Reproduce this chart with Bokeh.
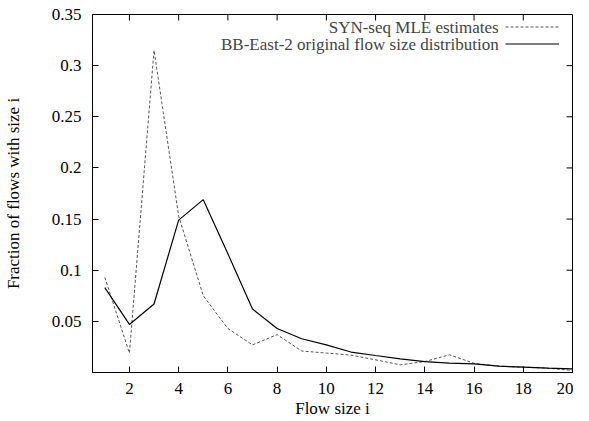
from bokeh.plotting import figure
from bokeh.models import Range1d, FixedTicker, Legend, LegendItem, Label
from bokeh.embed import file_html
from bokeh.resources import INLINE

flow_size = list(range(1, 21))
mle_estimates = [0.093, 0.019, 0.315, 0.153, 0.075, 0.043, 0.027, 0.037, 0.021, 0.019,
                 0.017, 0.0124, 0.0075, 0.0107, 0.0173, 0.009, 0.0062, 0.0052, 0.0042, 0.002]
original_dist = [0.083, 0.047, 0.067, 0.149, 0.169, 0.116, 0.062, 0.043, 0.033, 0.027,
                 0.020, 0.0166, 0.0134, 0.0107, 0.0091, 0.0085, 0.0062, 0.0052, 0.0042, 0.0036]
x_ticks = [2, 4, 6, 8, 10, 12, 14, 16, 18, 20]
x_tick_labels = ["2", "4", "6", "8", "10", "12", "14", "16", "18", "20"]
y_ticks = [0.05, 0.1, 0.15, 0.2, 0.25, 0.3, 0.35]
y_tick_labels = ["0.05", "0.1", "0.15", "0.2", "0.25", "0.3", "0.35"]
series_names = ["SYN-seq MLE estimates", "BB-East-2 original flow size distribution"]

X_MIN, X_MAX = 0.5, 20
Y_MIN, Y_MAX = 0, 0.35
FONT = "Liberation Serif"
FS = "17px"
W, H = 573, 420
B_LEFT, B_RIGHT, B_TOP = 86, 1, 14
TICK = 6

p = figure(width=W, height=H, output_backend="svg", toolbar_location=None,
           x_range=Range1d(X_MIN, X_MAX), y_range=Range1d(Y_MIN, Y_MAX),
           min_border_left=B_LEFT, min_border_right=B_RIGHT, min_border_top=B_TOP,
           min_border_bottom=0)
p.grid.visible = False
p.outline_line_color = "black"
p.outline_line_width = 1
p.background_fill_color = "white"
p.border_fill_color = "white"

r_mle = p.line(flow_size, mle_estimates, line_color="#555555", line_width=1, line_dash="3 2")
r_orig = p.line(flow_size, original_dist, line_color="black", line_width=1.2)

def style_axis(ax):
    ax.axis_line_color = "black"
    ax.major_tick_in = TICK
    ax.major_tick_out = 0
    ax.minor_tick_in = 0
    ax.minor_tick_out = 0
    ax.major_tick_line_color = "black"
    ax.major_label_text_font = FONT
    ax.major_label_text_font_size = FS
    ax.major_label_text_color = "black"
    ax.axis_label_text_font = FONT
    ax.axis_label_text_font_size = FS
    ax.axis_label_text_font_style = "normal"
    ax.axis_label_text_color = "black"

xax = p.xaxis[0]
xax.ticker = FixedTicker(ticks=x_ticks)
xax.major_label_overrides = {t: l for t, l in zip(x_ticks, x_tick_labels)}
xax.axis_label = "Flow size i"
style_axis(xax)
xax.major_label_standoff = 10
xax.axis_label_standoff = 2

yax = p.yaxis[0]
yax.ticker = FixedTicker(ticks=y_ticks)
yax.major_label_overrides = {t: l for t, l in zip(y_ticks, y_tick_labels)}
yax.axis_label = "Fraction of flows with size i"
style_axis(yax)
yax.major_label_standoff = 11
yax.axis_label_standoff = 26

# mirrored inward ticks on top and right edges (gnuplot style)
frame_w = W - B_LEFT - B_RIGHT
tick_dx = TICK * (X_MAX - X_MIN) / frame_w
tick_dy = TICK * (Y_MAX - Y_MIN) / 358
p.segment(x0=x_ticks, y0=[Y_MAX] * len(x_ticks), x1=x_ticks,
          y1=[Y_MAX - tick_dy] * len(x_ticks), line_color="black", line_width=1)
p.segment(x0=[X_MAX] * len(y_ticks), y0=y_ticks, x1=[X_MAX - tick_dx] * len(y_ticks),
          y1=y_ticks, line_color="black", line_width=1)

legend = Legend(items=[LegendItem(label=" ", renderers=[r_mle]),
                       LegendItem(label=" ", renderers=[r_orig])],
                location=(413, 320), glyph_width=54, glyph_height=17, label_width=0,
                label_height=17, label_standoff=0, padding=0, spacing=0, margin=0,
                label_text_font_size="1px", border_line_color=None,
                background_fill_alpha=0)
p.add_layout(legend, "center")

p.add_layout(Label(x=17.0, y=0.3373, text=series_names[0], text_align="right",
                   text_baseline="middle", text_font=FONT, text_font_size=FS))
p.add_layout(Label(x=17.0, y=0.3207, text=series_names[1], text_align="right",
                   text_baseline="middle", text_font=FONT, text_font_size=FS))

open("out.html", "w").write(file_html(p, INLINE))
